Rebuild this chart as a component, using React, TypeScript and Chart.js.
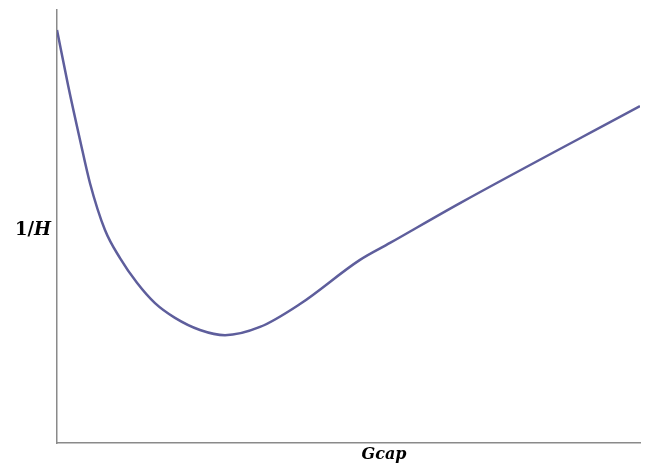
import React, { useEffect, useRef } from "react";
import { Chart, registerables } from "chart.js";

Chart.register(...registerables);

// Gcap values (arbitrary units, 0..100 across the axis)
const gcap = [0, 1.89, 3.95, 5.66, 8.23, 10.81, 13.72, 16.81, 20.24, 24.53, 28.82, 34.82, 41.68, 51.97, 57.12, 69.13, 100];
// 1/H values (arbitrary units, 0..100 up the axis)
const invH = [95.4, 82.7, 70.0, 60.0, 49.2, 42.7, 37.0, 32.3, 28.9, 26.1, 24.9, 26.8, 32.1, 42.3, 46.2, 55.4, 77.8];

const xTitle = "Gcap";
const yTitleUpright = "1/";
const yTitleItalic = "H";

const axisLabels = {
  id: "axisLabels",
  afterDraw(chart: Chart) {
    const { ctx, chartArea } = chart;
    ctx.save();
    ctx.fillStyle = "#000";
    ctx.textBaseline = "middle";

    // x-axis title below the bottom axis
    ctx.font = 'italic bold 16px "DejaVu Serif"';
    ctx.textAlign = "center";
    ctx.fillText(xTitle, 384, chartArea.bottom + 12);

    // horizontal y-axis title: upright "1/" followed by italic "H"
    ctx.textAlign = "left";
    ctx.font = 'bold 18px "DejaVu Serif"';
    const y = 230;
    let x = 15;
    ctx.fillText(yTitleUpright, x, y);
    x += ctx.measureText(yTitleUpright).width;
    ctx.font = 'italic bold 18px "DejaVu Serif"';
    ctx.fillText(yTitleItalic, x, y);
    ctx.restore();
  },
};

export default function App() {
  const canvasRef = useRef<HTMLCanvasElement | null>(null);

  useEffect(() => {
    const canvas = canvasRef.current;
    if (!canvas) return;
    const points = gcap.map((g, i) => ({ x: g, y: invH[i] }));
    const chart = new Chart(canvas, {
      type: "line",
      data: {
        datasets: [
          {
            data: points,
            borderColor: "#5e5e9c",
            borderWidth: 2.5,
            pointRadius: 0,
            cubicInterpolationMode: "monotone",
            fill: false,
          },
        ],
      },
      options: {
        animation: false,
        responsive: false,
        devicePixelRatio: 1,
        layout: { padding: { left: 57, right: 16, top: 10, bottom: 26 } },
        plugins: {
          legend: { display: false },
          tooltip: { enabled: false },
          title: { display: false },
        },
        scales: {
          x: {
            type: "linear",
            min: 0,
            max: 100,
            ticks: { display: false },
            grid: { display: false, drawTicks: false },
            border: { display: true, color: "#8a8a8a", width: 1.5 },
          },
          y: {
            type: "linear",
            min: 0,
            max: 100,
            ticks: { display: false },
            grid: { display: false, drawTicks: false },
            border: { display: true, color: "#8a8a8a", width: 1.5 },
          },
        },
      },
      plugins: [axisLabels],
    });
    return () => chart.destroy();
  }, []);

  return (
    <canvas
      ref={canvasRef}
      width={656}
      height={469}
      style={{ position: "fixed", left: 0, top: 0, width: 656, height: 469, background: "#fff" }}
    />
  );
}
